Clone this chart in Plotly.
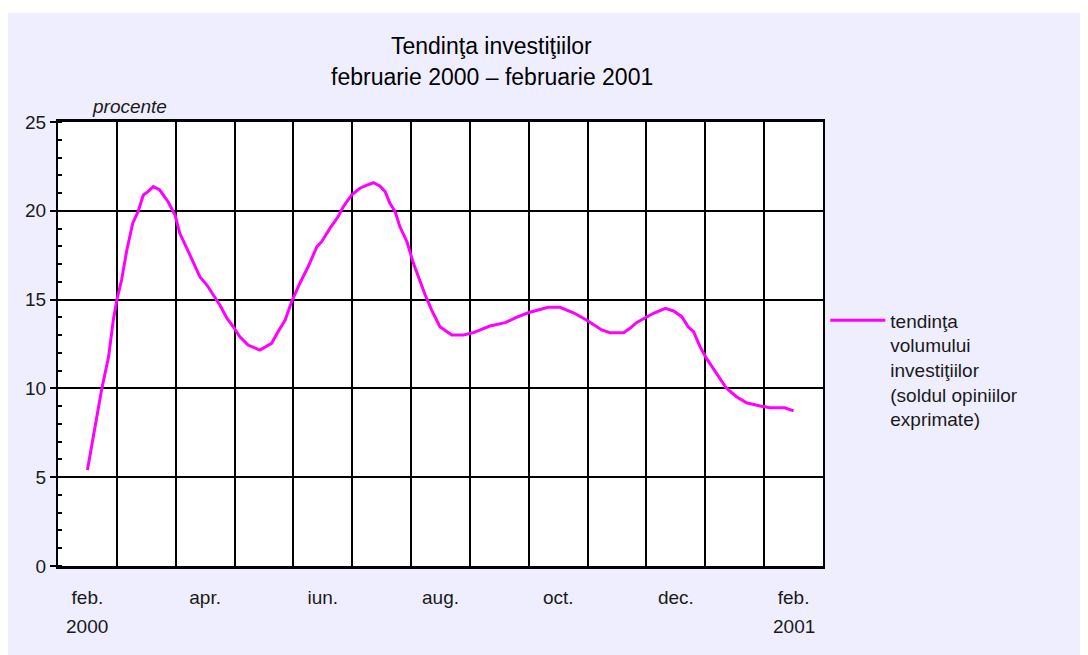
import plotly.graph_objects as go

# month offset from feb. 2000 (0) to feb. 2001 (12) and the trend values (procente)
luna = [0.0, 0.11, 0.24, 0.36, 0.44, 0.50, 0.58, 0.67, 0.77, 0.86, 0.95, 1.03, 1.12, 1.23,
        1.37, 1.49, 1.57, 1.69, 1.80, 1.91, 2.03, 2.14, 2.25, 2.37, 2.48, 2.59, 2.73, 2.93,
        3.13, 3.24, 3.36, 3.47, 3.61, 3.75, 3.90, 3.98, 4.12, 4.26, 4.35, 4.49, 4.63, 4.75,
        4.86, 4.97, 5.06, 5.14, 5.23, 5.31, 5.43, 5.54, 5.62, 5.74, 5.85, 5.99, 6.19, 6.39,
        6.56, 6.84, 7.10, 7.29, 7.49, 7.63, 7.83, 8.03, 8.26, 8.48, 8.74, 8.88, 9.11, 9.22,
        9.33, 9.48, 9.62, 9.82, 9.96, 10.10, 10.21, 10.30, 10.41, 10.52, 10.69, 10.86, 11.03,
        11.20, 11.43, 11.60, 11.85, 12.0]
tendinta = [5.41, 7.47, 9.91, 11.79, 13.85, 14.98, 16.10, 17.79, 19.30, 19.95, 20.89, 21.08,
            21.36, 21.17, 20.51, 19.76, 18.73, 17.89, 17.04, 16.29, 15.82, 15.26, 14.70, 13.95,
            13.47, 12.91, 12.44, 12.16, 12.54, 13.19, 13.85, 14.88, 15.92, 16.85, 17.98, 18.26,
            19.01, 19.67, 20.24, 20.89, 21.27, 21.45, 21.58, 21.40, 21.08, 20.42, 19.95, 19.10,
            18.26, 17.04, 16.29, 15.26, 14.41, 13.47, 13.01, 13.01, 13.14, 13.51, 13.70, 14.00,
            14.26, 14.38, 14.57, 14.57, 14.26, 13.85, 13.29, 13.14, 13.14, 13.38, 13.70, 13.98,
            14.23, 14.51, 14.36, 14.04, 13.47, 13.19, 12.35, 11.69, 10.85, 10.01, 9.53, 9.19,
            9.01, 8.91, 8.91, 8.73]

tick_pos = [0, 2, 4, 6, 8, 10, 12]
tick_text = ["feb.", "apr.", "iun.", "aug.", "oct.", "dec.", "feb."]
year_pos = [0, 12]
year_text = ["2000", "2001"]
month_bounds = [i - 0.5 for i in range(14)]

FONT = "Liberation Sans, Arial, sans-serif"
TXT = "#1a1a1a"

fig = go.Figure()
fig.add_trace(go.Scatter(
    x=luna, y=tendinta, mode="lines",
    line=dict(color="#FF00FF", width=3),
    name="tendinţa<br>volumului<br>investiţiilor<br>(soldul opiniilor<br>exprimate)",
    showlegend=True,
))

fig.update_layout(
    width=1080, height=647,
    margin=dict(l=50, r=265, t=114, b=89),
    paper_bgcolor="white",
    plot_bgcolor="white",
    font=dict(family=FONT, size=19, color=TXT),
    showlegend=True,
    legend=dict(x=1.003, y=0.596, xanchor="left", yanchor="top",
                bgcolor="rgba(0,0,0,0)", valign="top", itemwidth=55,
                font=dict(family=FONT, size=19, color=TXT)),
    xaxis=dict(
        range=[-0.5, 12.5], tickmode="array", tickvals=tick_pos, ticktext=tick_text,
        showgrid=False, ticks="", zeroline=False,
        showline=True, linecolor="black", linewidth=3, mirror=True,
        ticklabelstandoff=12,
        tickfont=dict(family=FONT, size=19, color=TXT),
        minor=dict(tickmode="array", tickvals=month_bounds, showgrid=True,
                   gridcolor="black", gridwidth=1.5, ticks=""),
    ),
    yaxis=dict(
        range=[0, 25], tickmode="linear", tick0=0, dtick=5,
        showgrid=True, gridcolor="black", gridwidth=1.5, zeroline=False,
        showline=True, linecolor="black", linewidth=2, mirror=True,
        ticks="outside", ticklen=6, tickwidth=1.5, tickcolor="black",
        tickfont=dict(family=FONT, size=19, color=TXT),
        minor=dict(dtick=1, ticks="inside", ticklen=4, tickwidth=1.5,
                   tickcolor="black", showgrid=False),
    ),
    shapes=[
        dict(type="rect", xref="paper", yref="paper", x0=-0.0654, x1=1.5,
             y0=-0.4, y1=1.2455, fillcolor="#EFEEFF", line=dict(width=0), layer="below"),
        dict(type="rect", xref="x domain", yref="y domain", x0=0, x1=1, y0=0, y1=1,
             fillcolor="white", line=dict(width=0), layer="below"),
    ],
)

annotations = [
    dict(text="Tendinţa investiţiilor", xref="paper", yref="paper", x=0.567, y=1.171,
         xanchor="center", yanchor="middle", showarrow=False,
         font=dict(family=FONT, size=23, color="black")),
    dict(text="februarie 2000 – februarie 2001", xref="paper", yref="paper", x=0.567, y=1.101,
         xanchor="center", yanchor="middle", showarrow=False,
         font=dict(family=FONT, size=23, color="black")),
    dict(text="<i>procente</i>", xref="paper", yref="paper", x=0.094, y=1.034,
         xanchor="center", yanchor="middle", showarrow=False,
         font=dict(family=FONT, size=19, color=TXT)),
]
for xp, yt in zip(year_pos, year_text):
    annotations.append(dict(text=yt, xref="x", yref="paper", x=xp, y=-0.137,
                            xanchor="center", yanchor="middle", showarrow=False,
                            font=dict(family=FONT, size=19, color=TXT)))
fig.update_layout(annotations=annotations)

fig.write_html("out.html")
